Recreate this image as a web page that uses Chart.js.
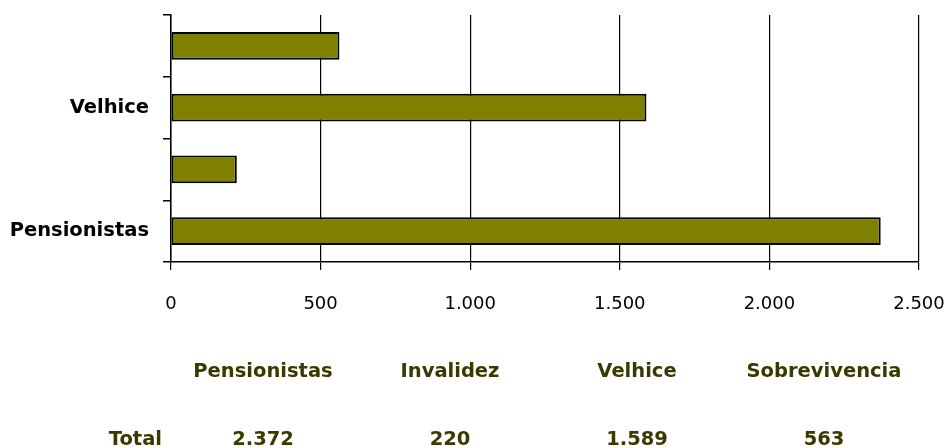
<!DOCTYPE html>
<html><head><meta charset="utf-8">
<script src="https://cdn.jsdelivr.net/npm/chart.js@4"></script>
<style>
body{margin:0;background:#fff}
#wrap{position:relative;width:946px;height:448px;overflow:hidden}
#c{position:absolute;left:0;top:0}
.t{position:absolute;font-family:"DejaVu Sans",sans-serif;font-weight:bold;font-size:19.5px;color:#3a3a00;white-space:nowrap;transform:translate(-50%,-50%)}
.r{transform:translate(-100%,-50%)}
</style></head>
<body>
<div id="wrap"><canvas id="c" width="946" height="448"></canvas></div>
<script>
const categories = ["Pensionistas", "Invalidez", "Velhice", "Sobrevivencia"];
const totals = [2372, 220, 1589, 563];
const xTicks = [0, 500, 1000, 1500, 2000, 2500];
const rowLabel = "Total";

const fmt = n => String(n).replace(/\B(?=(\d{3})+(?!\d))/g, '.');

new Chart(document.getElementById('c'), {
  type: 'bar',
  data: {
    labels: categories,
    datasets: [{
      data: totals,
      backgroundColor: '#808000',
      borderColor: '#000',
      borderWidth: 2,
      borderSkipped: false,
      categoryPercentage: 1,
      barPercentage: 0.45
    }]
  },
  options: {
    indexAxis: 'y',
    responsive: false,
    animation: false,
    layout: { padding: { top: 15, right: 27, left: 0, bottom: 0 } },
    plugins: { legend: { display: false }, tooltip: { enabled: false } },
    scales: {
      x: {
        min: xTicks[0], max: xTicks[xTicks.length - 1],
        afterBuildTicks: s => { s.ticks = xTicks.map(v => ({ value: v })); },
        afterFit: s => { s.height = 448 - 262; s.paddingLeft = 0; s.paddingRight = 0; },
        grid: { color: '#000', lineWidth: 1.2, tickLength: 8, drawTicks: true },
        border: { color: '#000', width: 1.5 },
        ticks: {
          color: '#000', padding: 24,
          font: { family: '"DejaVu Sans"', size: 18 },
          callback: v => fmt(v), maxRotation: 0
        }
      },
      y: {
        reverse: true,
        afterFit: s => { s.width = 171; s.paddingTop = 0; s.paddingBottom = 0; },
        grid: { drawOnChartArea: false, offset: true, color: '#000', tickLength: 8, lineWidth: 1.5 },
        border: { color: '#000', width: 1.5 },
        ticks: {
          color: '#000', padding: 14, autoSkip: false,
          font: { family: '"DejaVu Sans"', size: 19.5, weight: 'bold' },
          callback: function (v, i) { return i % 2 === 0 ? this.getLabelForValue(v) : ''; }
        }
      }
    }
  }
});

const wrap = document.getElementById('wrap');
const colX = [263, 450, 637, 824];
function addText(txt, x, y, cls) {
  const d = document.createElement('div');
  d.className = 't' + (cls ? ' ' + cls : '');
  d.textContent = txt; d.style.left = x + 'px'; d.style.top = y + 'px';
  wrap.appendChild(d);
}
categories.forEach((c, i) => addText(c, colX[i], 370));
addText(rowLabel, 162, 438, 'r');
totals.forEach((v, i) => addText(fmt(v), colX[i], 438));
</script>
</body></html>
